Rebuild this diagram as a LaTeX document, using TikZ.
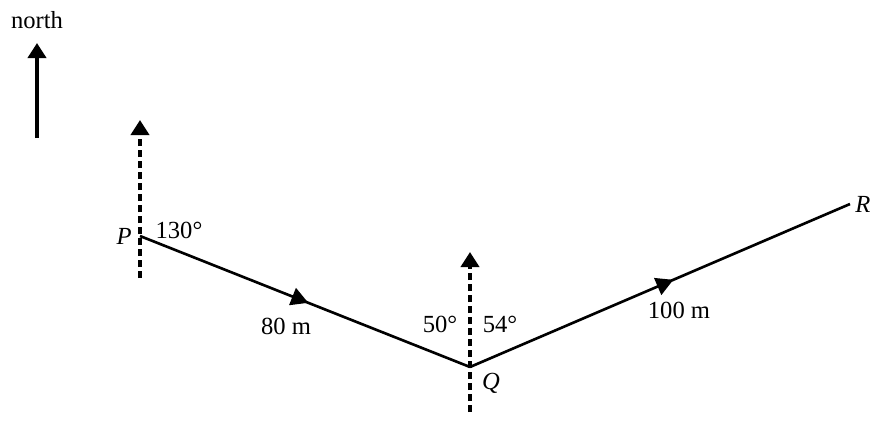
\documentclass[tikz,border=0pt]{standalone}
\usepackage{fontspec}
\setmainfont{Liberation Serif}
\usetikzlibrary{arrows.meta}
\usetikzlibrary{decorations.markings}
\usetikzlibrary{positioning}

\tikzset{
  tip/.style={-{Triangle[length=0.3cm,width=0.36cm]}},
  bearing/.style={tip, line width=2.1pt, dash pattern=on 0.15cm off 0.07cm},
  leg/.style={line width=1.5pt, postaction={decorate},
    decoration={markings, mark=at position #1 with {\arrow{Triangle[length=0.34cm,width=0.36cm]}}}},
  lbl/.style={font=\fontsize{14}{17}\selectfont, inner sep=0pt},
}

\begin{document}
\begin{tikzpicture}[x=0.02cm, y=-0.02cm]
    \useasboundingbox (0,0) rectangle (877,420);
    % points of the walk
    \coordinate (P) at (140,236);
    \coordinate (Q) at (470,367);
    \coordinate (R) at (850,204);
    % north arrow
    \coordinate (n0) at (37,138);
    \coordinate (n1) at (37,43);
    \draw[tip, line width=2.3pt] (n0) -- (n1);
    \node[lbl] (north) at (37,20) {north};
    % north lines through P and Q
    \coordinate (Pb) at (140,278);
    \coordinate (Pt) at (140,120);
    \coordinate (Qb) at (470,412);
    \coordinate (Qt) at (470,252);
    \draw[bearing] (Pb) -- (Pt);
    \draw[bearing] (Qb) -- (Qt);
    % the two legs
    \draw[leg=0.51] (P) -- (Q);
    \draw[leg=0.535] (Q) -- (R);
    % labels
    \node[lbl, left=0.16cm of P] (labP) {\textit{P}};
    \node[lbl, right=0.1cm of R] (labR) {\textit{R}};
    \node[lbl] (labQ) at (491,383) {\textit{Q}};
    \node[lbl] (angP) at (179,230) {130°};
    \node[lbl] (angQl) at (440,324) {50°};
    \node[lbl] (angQr) at (500,324) {54°};
    \node[lbl] (distPQ) at (286,326) {80 m};
    \node[lbl] (distQR) at (679,310) {100 m};
\end{tikzpicture}
\end{document}
